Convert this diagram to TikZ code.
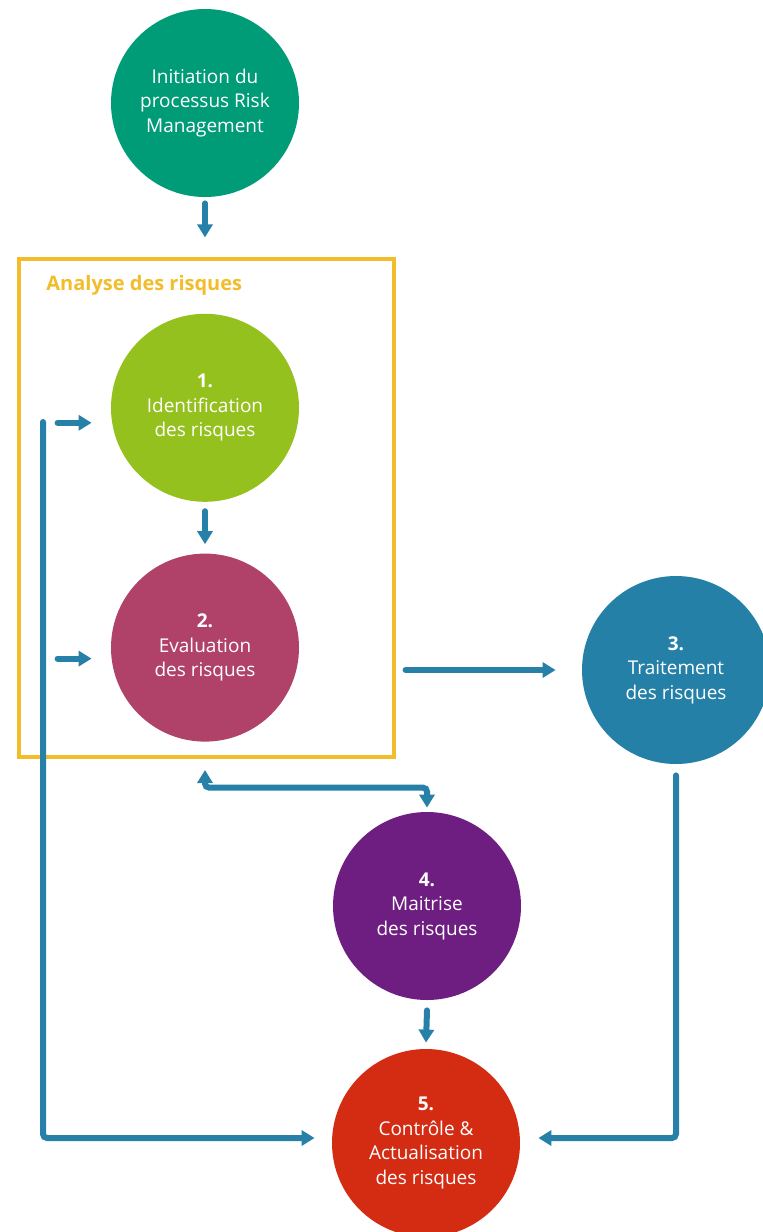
\documentclass[tikz,border=0pt]{standalone}
\usepackage{fontspec}
\setmainfont{Open Sans}
\usepackage{xcolor}
\usetikzlibrary{arrows.meta,positioning,calc}
\definecolor{initgreen}{HTML}{009B77}
\definecolor{identgreen}{HTML}{95C11F}
\definecolor{evalrose}{HTML}{B0426A}
\definecolor{traitblue}{HTML}{2580A7}
\definecolor{maitrpurple}{HTML}{6E1E80}
\definecolor{ctrlred}{HTML}{D42B13}
\definecolor{boxyellow}{HTML}{F2BC2B}
\definecolor{flowblue}{HTML}{2680A8}
\tikzset{
  stage/.style={circle, inner sep=0pt, minimum size=94pt, align=center,
                text=white, font=\fontsize{9.5}{12.25}\selectfont},
  anbox/.style={rectangle, draw=boxyellow, line width=1.8pt, inner sep=0pt,
                minimum width=187.5pt, minimum height=249pt},
  ttl/.style={font=\fontsize{10}{12}\selectfont\bfseries, text=boxyellow, inner sep=0pt},
  fl/.style={-{Triangle[length=6.5pt,width=7.5pt]}, line width=3pt, draw=flowblue,
             line cap=round, rounded corners=2pt},
  bi/.style={fl, {Triangle[length=6.5pt,width=7.5pt]}-{Triangle[length=6.5pt,width=7.5pt]}},
}
\begin{document}
\begin{tikzpicture}[x=0.5pt, y=-0.5pt]
\useasboundingbox (0,0) rectangle (763,1232);
\node[anbox, anchor=north west] (analyse) at (17,257) {};
\node[ttl, anchor=west] (titre) at ([xshift=14.5pt, yshift=-14pt]analyse.north west) {Analyse des risques};
\node[stage, fill=initgreen] (init) at (205,103) {Initiation du\\processus Risk\\Management};
\node[stage, fill=identgreen, below=58pt of init] (ident) {\textbf{1.}\\Identification\\des risques};
\node[stage, fill=evalrose, below=25.5pt of ident] (eval) {\textbf{2.}\\Evaluation\\des risques};
\node[stage, fill=traitblue] (trait) at (676,670) {\textbf{3.}\\Traitement\\des risques};
\node[stage, fill=maitrpurple] (maitr) at (427,906) {\textbf{4.}\\Maitrise\\des risques};
\node[stage, fill=ctrlred] (ctrl) at (426,1143) {\textbf{5.}\\Contrôle \&\\Actualisation\\des risques};
\coordinate (looptop) at (43,422);
\draw[fl] ([yshift=-3pt]init.south) -- ([yshift=38pt]ident.north);
\draw[fl] ([yshift=-4.5pt]ident.south) -- ([yshift=4.5pt]eval.north);
\draw[fl] ([xshift=-26.5pt,yshift=-7.5pt]ident.west) -- ([xshift=-9.5pt,yshift=-7.5pt]ident.west);
\draw[fl] ([xshift=-26.5pt,yshift=-5.5pt]eval.west) -- ([xshift=-9.5pt,yshift=-5.5pt]eval.west);
\draw[fl] (looptop) |- ([xshift=-8.5pt,yshift=2.5pt]ctrl.west);
\draw[fl] ([xshift=-88pt]trait.west) -- ([xshift=-13pt]trait.west);
\draw[bi] ([yshift=-14pt]eval.south) |- ([yshift=12pt]maitr.north) -- ([yshift=2pt]maitr.north);
\draw[fl] ([yshift=-5pt]maitr.south) -- ([yshift=3pt]ctrl.north);
\draw[fl] ([yshift=-5.5pt]trait.south) |- ([xshift=9pt,yshift=2.5pt]ctrl.east);
\end{tikzpicture}
\end{document}
